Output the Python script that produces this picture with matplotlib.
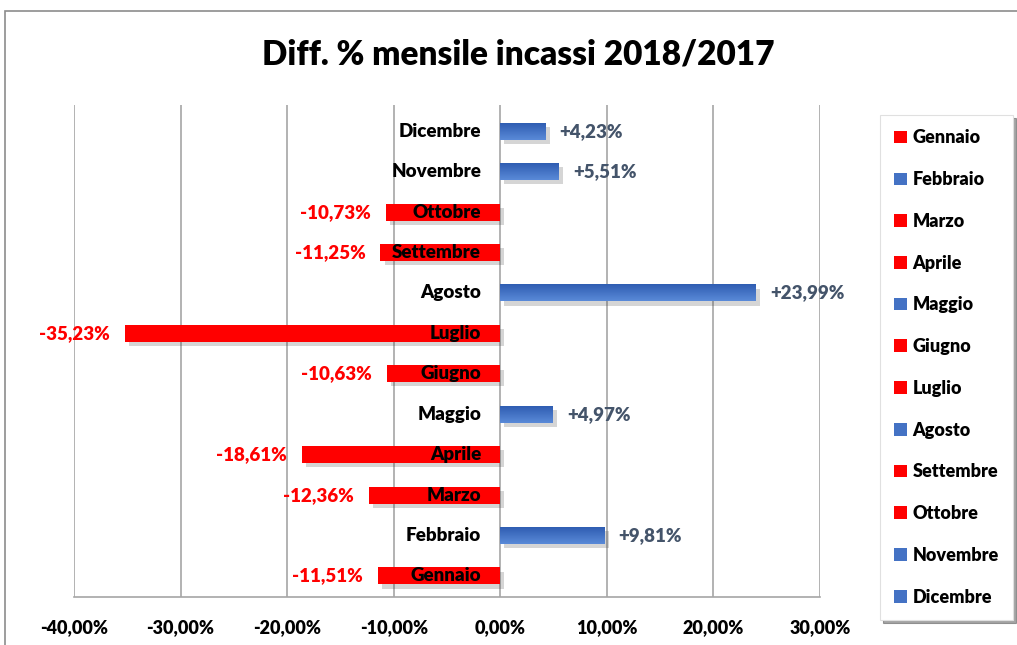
import matplotlib
matplotlib.use("Agg")
import matplotlib.pyplot as plt
import numpy as np
from matplotlib.patches import Patch, Rectangle
from matplotlib import patheffects as pe
from matplotlib.colors import LinearSegmentedColormap

plt.rcParams['font.family'] = ['Lato', 'DejaVu Sans']

months = ["Gennaio", "Febbraio", "Marzo", "Aprile", "Maggio", "Giugno",
          "Luglio", "Agosto", "Settembre", "Ottobre", "Novembre", "Dicembre"]
values = [-11.51, 9.81, -12.36, -18.61, 4.97, -10.63,
          -35.23, 23.99, -11.25, -10.73, 5.51, 4.23]
xticks = [-40, -30, -20, -10, 0, 10, 20, 30]
title = "Diff. % mensile incassi 2018/2017"

RED = "#FF0000"
BLUE = "#4472C4"
BLUE_TXT = "#44546A"
FW = "heavy"

W, H = 1017, 645
fig = plt.figure(figsize=(W / 100, H / 100), dpi=100)
fig.patch.set_facecolor("white")
fig.add_artist(Rectangle((5 / W, -0.01), 1.02, 1 - 11 / H + 0.01, transform=fig.transFigure,
                         fill=False, edgecolor="#8c8c8c", lw=1.2))

ax = fig.add_axes([74 / W, 1 - 597 / H, (820 - 74) / W, (597 - 105) / H])
y = np.arange(len(months))
colors = [RED if v < 0 else BLUE for v in values]
shadow = [pe.SimplePatchShadow(offset=(3, -3), alpha=0.22, shadow_rgbFace="#404040"), pe.Normal()]
bars = ax.barh(y, values, height=0.42, color=colors, zorder=3)
for b in bars:
    b.set_path_effects(shadow)

cmap = LinearSegmentedColormap.from_list("bl", ["#5a8ad8", "#2f5db2"])
grad = np.linspace(0, 1, 64).reshape(-1, 1)
for b, v in zip(bars, values):
    if v > 0:
        x0, y0 = b.get_x(), b.get_y()
        im = ax.imshow(grad, extent=(x0, x0 + b.get_width(), y0 + b.get_height(), y0),
                       aspect="auto", cmap=cmap, zorder=3.5, origin="upper")
        im.set_clip_path(b)

ax.set_xlim(-40, 30)
ax.set_ylim(-0.52, 11.65)
ax.set_xticks(xticks)
ax.set_xticklabels([f"{t:.2f}%".replace(".", ",") for t in xticks],
                   fontsize=13, fontweight=FW)
ax.set_yticks([])
ax.tick_params(axis="x", length=0, pad=16)
ax.grid(axis="x", color="#a6a6a6", lw=1.2, zorder=0)
for s in ["top", "right", "left"]:
    ax.spines[s].set_visible(False)
ax.spines["bottom"].set_color("#a6a6a6")
ax.spines["bottom"].set_linewidth(1.2)

for yi, (m, v) in enumerate(zip(months, values)):
    ax.text(-1.8, yi, m, ha="right", va="center", fontsize=13.5, fontweight=FW,
            color="black", zorder=5)
    lab = ("+" if v > 0 else "") + f"{v:.2f}%".replace(".", ",")
    if v > 0:
        ax.text(v + 1.3, yi, lab, ha="left", va="center", fontsize=13.5,
                fontweight=FW, color=BLUE_TXT, zorder=5)
    else:
        ax.text(v - 1.4, yi, lab, ha="right", va="center", fontsize=13.5,
                fontweight=FW, color=RED, zorder=5)

handles = [Patch(facecolor=c, edgecolor="none") for c in colors]
leg = fig.legend(handles, months, loc="upper left",
                 bbox_to_anchor=(880 / W, 1 - 115 / H), prop={"size": 13, "weight": FW},
                 frameon=True, shadow=True, fancybox=False, labelspacing=1.37,
                 handlelength=0.7, handleheight=0.7, handletextpad=0.3,
                 borderpad=0.8, borderaxespad=0)
leg.get_frame().set_edgecolor("#e0e0e0")
leg.get_frame().set_linewidth(0.8)

fig.text(518 / W, 1 - 55 / H, title, ha="center", va="center", fontsize=24, fontweight=FW)

fig.savefig("out.png", dpi=100)
